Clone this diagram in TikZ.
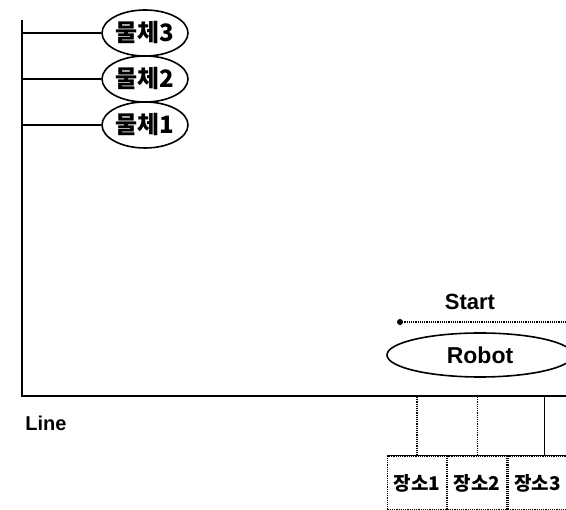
\documentclass[tikz,border=0pt]{standalone}
\usepackage{fontspec}
\setmainfont{Liberation Sans}
\newfontfamily\kor{Noto Sans CJK KR}
\usetikzlibrary{shapes.geometric, positioning}

\begin{document}
\begin{tikzpicture}[x=1pt,y=-1pt,line width=1.6pt,node distance=46pt,
                    font=\fontsize{21}{21}\selectfont]
  \tikzstyle{object}=[ellipse,draw=black,line width=1.6pt,minimum width=86pt,
                      minimum height=46pt,inner sep=0pt,font=\kor\bfseries\fontsize{24}{24}\selectfont]
  \tikzstyle{place}=[rectangle,draw=black,densely dotted,line width=1.2pt,
                     minimum width=59pt,minimum height=54pt,inner sep=0pt,
                     font=\kor\bfseries\fontsize{19}{19}\selectfont]
  \useasboundingbox (0,0) rectangle (566,510);

  % objects on the left
  \node[object] (O3) at (145,33) {물체3};
  \node[object] (O2) [below of=O3] {물체2};
  \node[object] (O1) [below of=O2] {물체1};

  \coordinate (top) at (22,20);
  \coordinate (corner) at (22,396);
  \coordinate (far) at (570,396);
  \draw (top) -- (corner) -- (far);
  \draw (O3.west -| corner) -- (O3);
  \draw (O2.west -| corner) -- (O2);
  \draw (O1.west -| corner) -- (O1);

  \node[font=\bfseries\fontsize{20}{20}\selectfont] (line) at (46,423) {Line};

  % robot
  \node[object,minimum width=186pt,minimum height=44pt,font=\bfseries\fontsize{23}{23}\selectfont] (R) at (480,355) {Robot};
  \coordinate (s0) at (400,322);
  \coordinate (s1) at (570,322);
  \fill (s0) circle (3pt);
  \draw[densely dotted,line width=1.2pt] (s0) -- (s1);
  \node[font=\bfseries\fontsize{22}{22}\selectfont] (start) at (470,302) {Start};

  % places
  \node[place] (P1) at (417,483) {장소1};
  \node[place] (P2) [right=0pt of P1] {장소2};
  \node[place] (P3) [right=0pt of P2] {장소3};
  \draw[line width=1.4pt] (P1.north west) -- (P3.north east);
  \draw[densely dotted,line width=1.2pt] (P1.north) -- (P1.north |- far);
  \draw[densely dotted,line width=1.2pt] (P2.north) -- (P2.north |- far);
  \draw ([xshift=7pt]P3.north) -- ([xshift=7pt]P3.north |- far);
\end{tikzpicture}
\end{document}
